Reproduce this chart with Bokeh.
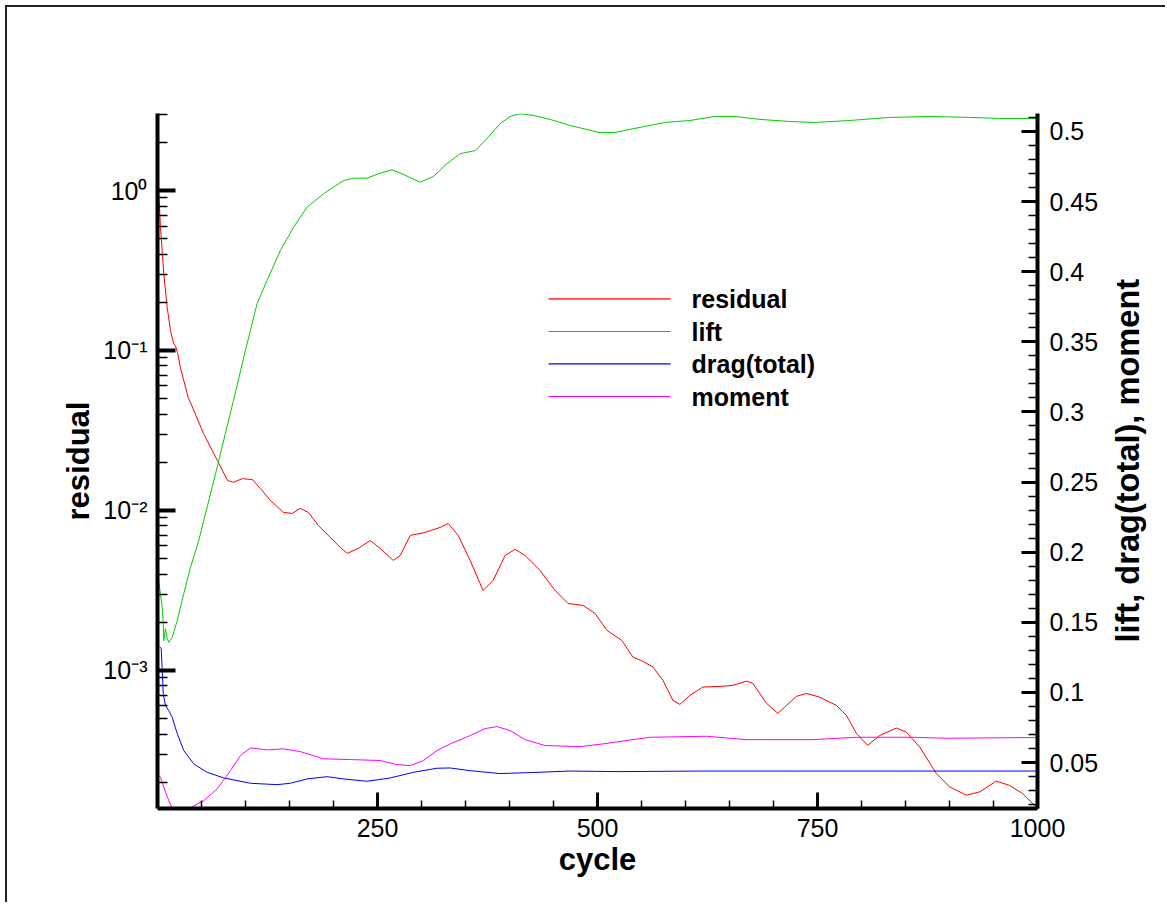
import math
from bokeh.plotting import figure
from bokeh.models import (Range1d, LinearAxis, LinearScale, FixedTicker, NumeralTickFormatter,
                          Label, BoxAnnotation)
from bokeh.embed import file_html
from bokeh.resources import INLINE

# ---------------- data ----------------
res_cycle = [0, 3.4, 7.2, 11, 14.8, 18.2, 20.4, 22.7, 26.1, 35.2, 37.5, 52.2, 68.1, 79.5, 86.3, 96.5,
             107.8, 116.9, 128.3, 143.0, 153.2, 162.3, 171.4, 182.7, 196.4, 207.7, 215.7, 228.2,
             241.8, 253.1, 267.9, 275.8, 287.2, 304.2, 321.2, 330.3, 341.7, 355.3, 370.0, 381.4,
             395.0, 406.4, 417.7, 434.7, 451.8, 466.5, 483.5, 497.2, 510.8, 527.5, 540.3, 550.2,
             563.0, 574.4, 585.7, 593.6, 605.0, 619.8, 639.0, 653.8, 669.4, 676.5, 692.1, 704.9,
             714.8, 726.1, 737.5, 752.6, 771.5, 782.9, 794.2, 807.0, 820.7, 839.6, 851.0, 866.1,
             885.0, 900.1, 919.1, 934.2, 953.1, 968.2, 983.0, 998.5]
residual = [1.39, 0.59, 0.30, 0.186, 0.133, 0.111, 0.107, 0.097, 0.078, 0.050, 0.0473, 0.0303,
            0.0205, 0.0154, 0.0150, 0.0158, 0.0156, 0.0137, 0.01155, 0.00972, 0.00958, 0.0103,
            0.00972, 0.00806, 0.00678, 0.00587, 0.00539, 0.00579, 0.00649, 0.00579, 0.00487,
            0.00523, 0.00698, 0.00729, 0.00783, 0.00829, 0.00698, 0.00487, 0.00316, 0.00365,
            0.00523, 0.00571, 0.00523, 0.00422, 0.00316, 0.00262, 0.00255, 0.00227, 0.00178,
            0.00154, 0.00121, 0.00115, 0.00105, 0.000866, 0.000649, 0.000613, 0.000698, 0.000787,
            0.000794, 0.000806, 0.000857, 0.000829, 0.000622, 0.000539, 0.000604, 0.000688,
            0.000718, 0.000680, 0.000604, 0.000523, 0.000404, 0.000340, 0.000392, 0.000436,
            0.000411, 0.000332, 0.000227, 0.000187, 0.000166, 0.000174, 0.000203, 0.000191,
            0.000170, 0.000140]

lift_cycle = [0.6, 5.3, 6.5, 7.2, 9.1, 11.0, 12.8, 16.7, 22.4, 29.9, 37.5, 46.9, 67.8, 86.3, 99.9,
              113.2, 124.5, 139.6, 154.7, 169.9, 188.8, 211.5, 222.8, 238.0, 253.1, 266.4, 279.6,
              298.5, 313.6, 328.8, 343.9, 361.0, 374.2, 389.3, 400.7, 412.0, 427.1, 446.1, 468.8,
              502.8, 519.9, 548.2, 576.6, 605.0, 633.4, 656.1, 684.5, 718.5, 746.9, 786.6, 832.0,
              877.4, 922.8, 956.9, 1000]
lift = [0.1833, 0.1607, 0.150, 0.1369, 0.1455, 0.1384, 0.1357, 0.1393, 0.1512, 0.1705, 0.1892,
        0.2083, 0.2606, 0.3081, 0.3438, 0.3773, 0.3937, 0.4151, 0.4317, 0.4460, 0.4556, 0.4650,
        0.4667, 0.4667, 0.4703, 0.4727, 0.4693, 0.4638, 0.4679, 0.4770, 0.4841, 0.4864, 0.4948,
        0.5055, 0.5107, 0.5126, 0.5114, 0.5086, 0.5043, 0.4991, 0.4993, 0.5029, 0.5064, 0.5078,
        0.5107, 0.5107, 0.5086, 0.5071, 0.5064, 0.5078, 0.5100, 0.5107, 0.5100, 0.5093, 0.5093]

drag_cycle = [2.3, 4.2, 5.3, 6.5, 9.1, 12.8, 16.7, 22.4, 29.9, 41.2, 56.4, 75.3, 105.6, 135.9,
              151.0, 169.9, 192.6, 211.5, 238.0, 264.5, 290.9, 317.5, 332.6, 355.3, 389.3, 423.4,
              468.8, 525.5, 616.3, 729.9, 843.4, 1000]
drag = [0.1327, 0.1312, 0.1170, 0.0991, 0.0906, 0.0870, 0.0822, 0.0706, 0.0585, 0.0490, 0.0430,
        0.0390, 0.0352, 0.0342, 0.0352, 0.0383, 0.0399, 0.0383, 0.0366, 0.0390, 0.0430, 0.0459,
        0.0461, 0.0442, 0.0421, 0.0428, 0.0439, 0.0435, 0.0439, 0.0439, 0.0439, 0.0439]

mom_cycle = [0.6, 3.4, 5.3, 7.2, 11.4, 16.7, 26.1, 35.5, 52.6, 67.8, 82.9, 94.2, 105.6, 124.5,
             143.4, 162.3, 188.8, 219.1, 253.1, 272.1, 287.2, 302.3, 317.5, 332.6, 355.3, 372.3,
             385.9, 400.7, 417.7, 440.4, 463.1, 480.1, 506.6, 559.6, 624.0, 669.4, 744.9, 794.2,
             858.5, 896.4, 998.5]
moment = [0.0414, 0.0394, 0.0359, 0.0323, 0.0250, 0.0171, 0.0121, 0.0171, 0.0228, 0.0312, 0.0442,
          0.0549, 0.0604, 0.0590, 0.0597, 0.0578, 0.0526, 0.0521, 0.0514, 0.0485, 0.0478, 0.0514,
          0.0585, 0.0633, 0.0692, 0.0742, 0.0756, 0.0728, 0.0663, 0.0621, 0.0617, 0.0613, 0.0633,
          0.0680, 0.0687, 0.0663, 0.0663, 0.0680, 0.0680, 0.0673, 0.0678]

series_names = ["residual", "lift", "drag(total)", "moment"]
series_colors = ["#ff0000", "#00cc00", "#0000ff", "#ff00ff"]

x_major = [250, 500, 750, 1000]
x_minor = [50, 100, 150, 200, 300, 350, 400, 450, 550, 600, 650, 700, 800, 850, 900, 950]
y_major = [0.001, 0.01, 0.1, 1]
y_minor = [2e-4, 3e-4, 4e-4, 5e-4, 6e-4, 7e-4, 8e-4, 9e-4,
           2e-3, 3e-3, 4e-3, 5e-3, 6e-3, 7e-3, 8e-3, 9e-3,
           2e-2, 3e-2, 4e-2, 5e-2, 6e-2, 7e-2, 8e-2, 9e-2,
           0.2, 0.3, 0.4, 0.5, 0.6, 0.7, 0.8, 0.9, 2, 3]
y_labels = {0.001: "10\u207b\u00b3", 0.01: "10\u207b\u00b2", 0.1: "10\u207b\u00b9", 1: "10\u2070"}
r_major = [0.05, 0.1, 0.15, 0.2, 0.25, 0.3, 0.35, 0.4, 0.45, 0.5]
r_minor = [0.02, 0.03, 0.04, 0.06, 0.07, 0.08, 0.09, 0.11, 0.12, 0.13, 0.14, 0.16, 0.17, 0.18,
           0.19, 0.21, 0.22, 0.23, 0.24, 0.26, 0.27, 0.28, 0.29, 0.31, 0.32, 0.33, 0.34, 0.36,
           0.37, 0.38, 0.39, 0.41, 0.42, 0.43, 0.44, 0.46, 0.47, 0.48, 0.49, 0.51]
right_title = "lift, drag(total), moment"
right_title_start = 0.1355   # where the rotated title begins on the right scale

FONT = "Liberation Sans"

p = figure(width=1160, height=897, x_range=Range1d(0, 1000), y_range=Range1d(1.37e-4, 3.03),
           y_axis_type="log", output_backend="svg", toolbar_location=None,
           min_border_left=150, min_border_right=129, min_border_top=106, min_border_bottom=96)
p.styles = {"margin-left": "5px", "margin-top": "5px",
            "border-left": "2px solid #222", "border-top": "2px solid #222"}
p.extra_y_ranges = {"right": Range1d(0.0172, 0.5128)}
p.extra_y_scales = {"right": LinearScale()}
p.xgrid.visible = False
p.ygrid.visible = False
p.outline_line_color = None
p.background_fill_color = "white"
p.border_fill_color = "white"

p.line(res_cycle, residual, line_color=series_colors[0], line_width=1)
p.line(lift_cycle, lift, line_color=series_colors[1], line_width=1, y_range_name="right")
p.line(drag_cycle, drag, line_color=series_colors[2], line_width=1, y_range_name="right")
p.line(mom_cycle, moment, line_color=series_colors[3], line_width=1, y_range_name="right")

def style_axis(ax, maj_in, min_in):
    ax.axis_line_width = 4
    ax.axis_line_color = "black"
    ax.major_tick_in = maj_in
    ax.major_tick_out = 0
    ax.minor_tick_in = min_in
    ax.minor_tick_out = 0
    ax.major_tick_line_width = 3
    ax.minor_tick_line_width = 1.5
    ax.major_tick_line_color = "black"
    ax.minor_tick_line_color = "black"
    ax.major_label_text_font = FONT
    ax.major_label_text_font_size = "25px"
    ax.major_label_text_color = "black"
    ax.axis_label_text_font = FONT
    ax.axis_label_text_font_style = "bold"
    ax.axis_label_text_font_size = "31px"
    ax.axis_label_text_color = "black"

xa = p.xaxis[0]
xa.ticker = FixedTicker(ticks=x_major, minor_ticks=x_minor)
style_axis(xa, 16, 8)
xa.axis_label = "cycle"
xa.major_label_standoff = 10
xa.axis_label_standoff = 2

ya = p.yaxis[0]
ya.ticker = FixedTicker(ticks=y_major, minor_ticks=y_minor)
ya.major_label_overrides = y_labels
style_axis(ya, 18, 10)
ya.major_tick_line_width = 4
ya.axis_label = "residual"
ya.major_label_standoff = 10
ya.axis_label_standoff = 4

ra = LinearAxis(y_range_name="right")
ra.ticker = FixedTicker(ticks=r_major, minor_ticks=r_minor)
ra.formatter = NumeralTickFormatter(format="0.[00]")
style_axis(ra, 16, 9)
ra.major_label_standoff = 12
p.add_layout(ra, "right")

# title of the right axis: carried by a second, otherwise invisible axis
rt = LinearAxis(y_range_name="right")
rt.ticker = FixedTicker(ticks=[right_title_start], minor_ticks=[])
rt.major_label_overrides = {right_title_start: right_title}
rt.major_label_orientation = math.pi / 2
rt.axis_line_color = None
rt.major_tick_line_color = None
rt.minor_tick_line_color = None
rt.major_tick_in = 0
rt.major_tick_out = 0
rt.major_label_standoff = 26
rt.major_label_text_font = FONT
rt.major_label_text_font_style = "bold"
rt.major_label_text_font_size = "32.6px"
rt.major_label_text_color = "black"
p.add_layout(rt, "right")

# legend drawn as sample lines + labels inside the plot area (screen units)
leg_x0, leg_x1, leg_text_x = 391, 513, 534
leg_rows = [509.7, 477, 444.7, 412]
for name, col, yy in zip(series_names, series_colors, leg_rows):
    p.add_layout(BoxAnnotation(left=leg_x0, right=leg_x1, bottom=yy - 0.6, top=yy + 0.6,
                               left_units="screen", right_units="screen",
                               bottom_units="screen", top_units="screen",
                               fill_color=col, fill_alpha=1, line_color=None))
    p.add_layout(Label(x=leg_text_x, y=yy, x_units="screen", y_units="screen", text=name,
                       text_baseline="middle", text_align="left", text_font=FONT,
                       text_font_style="bold", text_font_size="25px", text_color="black"))

open("out.html", "w").write(file_html(p, INLINE))
